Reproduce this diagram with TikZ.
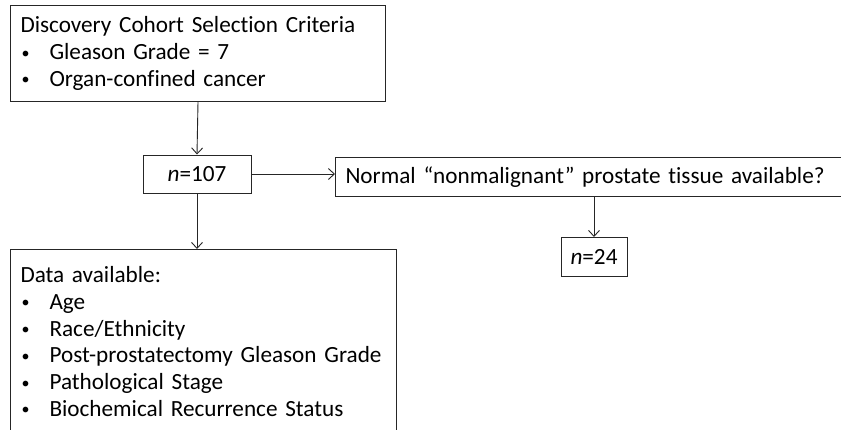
\documentclass[tikz,border=0pt]{standalone}
\usepackage{fontspec}
\setmainfont{Carlito}[Ligatures=NoCommon]
\usetikzlibrary{arrows.meta}
\newcommand{\bul}{\makebox[29pt][l]{\hspace{1pt}{\fontsize{16}{16}\selectfont\raisebox{1.5pt}{\textbullet}}}}
\begin{document}
\begin{tikzpicture}[x=1pt,y=-1pt,
  box/.style={draw=black!85, line width=1pt, rectangle, inner sep=0pt,
    font=\fontsize{23.2}{26.7}\selectfont},
  conn/.style={draw=black!85, line width=0.9pt, -{Straight Barb[length=6pt,width=11pt]}}]
\useasboundingbox (0,0) rectangle (841,429);
\fill[white] (0,0) rectangle (841,429);
\node[box, anchor=north west, minimum width=375pt, minimum height=96pt,
  text width=355pt, align=left] (crit) at (10,5)
  {Discovery Cohort Selection Criteria\\
   \bul Gleason Grade = 7\\
   \bul Organ-confined cancer};
\node[box, minimum width=108pt, minimum height=38pt] (n107) at (197,174) {\textit{n}=107};
\node[box, anchor=north west, minimum width=520pt, minimum height=39pt,
  text width=500pt, align=left] (normal) at (335,157)
  {Normal “nonmalignant” prostate tissue available?};
\node[box, minimum width=66pt, minimum height=39pt] (n24) at (594,257) {\textit{n}=24};
\node[box, anchor=north west, minimum width=386pt, minimum height=184pt,
  text width=366pt, align=left] (data) at (10,249)
  {Data available:\\
   \bul Age\\
   \bul Race/Ethnicity\\
   \bul Post-prostatectomy Gleason Grade\\
   \bul Pathological Stage\\
   \bul Biochemical Recurrence Status};
\draw[conn] (crit.south) -- (n107.north);
\draw[conn] (n107.east) -- (n107.east -| normal.west);
\draw[conn] (n107.south) -- (n107.south |- data.north);
\draw[conn] (normal.south -| n24.north) -- (n24.north);
\end{tikzpicture}
\end{document}
